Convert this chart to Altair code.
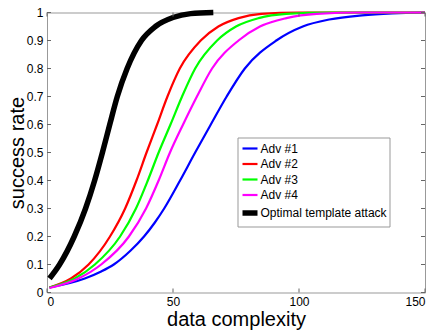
import altair as alt
import pandas as pd

# Success-rate curves vs. data complexity
series_names = ["Adv #1", "Adv #2", "Adv #3", "Adv #4", "Optimal template attack"]
series_colors = ["#0000ff", "#ff0000", "#00ff00", "#ff00ff", "#000000"]
series_widths = [2.2, 2.2, 2.2, 2.2, 5.5]

adv1_x = [1, 15, 21.5, 26.5, 33.2, 38.5, 42.8, 46.5, 52.8, 58.8, 65, 71.3, 78.5, 91, 101.5, 112, 125, 137, 150]
adv1_y = [0.018, 0.05, 0.075, 0.10, 0.15, 0.20, 0.25, 0.30, 0.40, 0.50, 0.60, 0.70, 0.80, 0.90, 0.95, 0.975, 0.99, 0.997, 1.0]

adv2_x = [1, 9.5, 16.5, 25, 31, 35.5, 39.5, 43.7, 47.8, 52.7, 61, 68, 76, 85, 100, 150]
adv2_y = [0.018, 0.05, 0.10, 0.20, 0.30, 0.40, 0.50, 0.60, 0.70, 0.80, 0.90, 0.95, 0.98, 0.995, 1.0, 1.0]

adv3_x = [1, 11, 19, 29, 35.3, 40, 44.3, 49, 53.6, 58.8, 67.5, 75, 84, 95, 112, 150]
adv3_y = [0.018, 0.05, 0.10, 0.20, 0.30, 0.40, 0.50, 0.60, 0.70, 0.80, 0.90, 0.95, 0.98, 0.995, 1.0, 1.0]

adv4_x = [1, 12.5, 21.5, 32.5, 39.3, 44.3, 48.8, 54, 59.5, 65.5, 76, 84.5, 95, 107, 125, 150]
adv4_y = [0.016, 0.05, 0.10, 0.20, 0.30, 0.40, 0.50, 0.60, 0.70, 0.80, 0.90, 0.95, 0.98, 0.995, 1.0, 1.0]

opt_x = [1, 5, 10.8, 15.3, 18.9, 22, 24.9, 27.9, 31.8, 37.5, 43, 50, 57, 66]
opt_y = [0.05, 0.10, 0.20, 0.30, 0.40, 0.50, 0.60, 0.70, 0.80, 0.90, 0.95, 0.982, 0.996, 1.0]

x_ticks = [0, 50, 100, 150]
y_ticks = [0, 0.1, 0.2, 0.3, 0.4, 0.5, 0.6, 0.7, 0.8, 0.9, 1.0]

rows = []
for name, xs, ys in zip(series_names,
                        [adv1_x, adv2_x, adv3_x, adv4_x, opt_x],
                        [adv1_y, adv2_y, adv3_y, adv4_y, opt_y]):
    for i, (xv, yv) in enumerate(zip(xs, ys)):
        rows.append({"series": name, "x": xv, "y": yv, "i": i})
df = pd.DataFrame(rows)

W, H = 378, 280
FONT = "Liberation Sans"
TICK_LEN = 4
TICK_COLOR = "#666666"

x_scale = alt.Scale(domain=[0, 150], nice=False, zero=False)
y_scale = alt.Scale(domain=[0, 1], nice=False, zero=False)

lines = alt.Chart(df).mark_line(interpolate="monotone", clip=False).encode(
    x=alt.X("x:Q", scale=x_scale,
            axis=alt.Axis(values=x_ticks, title="data complexity", ticks=False, domain=False,
                          grid=False, labelPadding=4, labelFontSize=12, labelFont=FONT,
                          labelColor="black", titleFontSize=20, titleFont=FONT,
                          titleFontWeight="normal", titleColor="black",
                          titleBaseline="alphabetic", titleX=W / 2, titleY=33)),
    y=alt.Y("y:Q", scale=y_scale,
            axis=alt.Axis(values=y_ticks, format=".1~f", title="success rate", ticks=False,
                          domain=False, grid=False, labelPadding=4, labelFontSize=12,
                          labelFont=FONT, labelColor="black", titleFontSize=20, titleFont=FONT,
                          titleFontWeight="normal", titleColor="black",
                          titleBaseline="alphabetic", titleAngle=270, titleX=-24,
                          titleY=H / 2)),
    color=alt.Color("series:N", scale=alt.Scale(domain=series_names, range=series_colors),
                    legend=alt.Legend(title=None)),
    strokeWidth=alt.StrokeWidth("series:N",
                                scale=alt.Scale(type="ordinal", domain=series_names,
                                                range=series_widths),
                                legend=alt.Legend(title=None)),
    order="i:Q",
)

xt = pd.DataFrame({"v": x_ticks})
yt = pd.DataFrame({"v": y_ticks})

# inward tick marks on all four sides of the box
x_tick_bottom = alt.Chart(xt).mark_rule(color=TICK_COLOR, strokeWidth=1).encode(
    x=alt.X("v:Q", scale=x_scale, axis=None), y=alt.value(H), y2=alt.value(H - TICK_LEN))
x_tick_top = alt.Chart(xt).mark_rule(color=TICK_COLOR, strokeWidth=1).encode(
    x=alt.X("v:Q", scale=x_scale, axis=None), y=alt.value(0), y2=alt.value(TICK_LEN))
y_tick_left = alt.Chart(yt).mark_rule(color=TICK_COLOR, strokeWidth=1).encode(
    y=alt.Y("v:Q", scale=y_scale, axis=None), x=alt.value(0), x2=alt.value(TICK_LEN))
y_tick_right = alt.Chart(yt).mark_rule(color=TICK_COLOR, strokeWidth=1).encode(
    y=alt.Y("v:Q", scale=y_scale, axis=None), x=alt.value(W), x2=alt.value(W - TICK_LEN))

chart = alt.layer(
    lines, x_tick_bottom, x_tick_top, y_tick_left, y_tick_right
).resolve_axis(
    x="independent", y="independent"
).properties(
    width=W, height=H,
    autosize=alt.AutoSizeParams(type="none"),
    padding={"left": 47, "top": 12.5, "right": 436 - 47 - W, "bottom": 330 - 12.5 - H},
    background="white",
).configure_view(
    stroke="#999999", strokeWidth=1
).configure_legend(
    orient="none", legendX=190.5, legendY=125,
    strokeColor="#999999", fillColor="white", padding=2,
    symbolType="stroke", symbolSize=225, labelFontSize=12, labelFont=FONT,
    labelColor="black", labelOffset=0, rowPadding=0.5,
)

chart.save("out.html", embed_options={"renderer": "svg", "actions": False})
